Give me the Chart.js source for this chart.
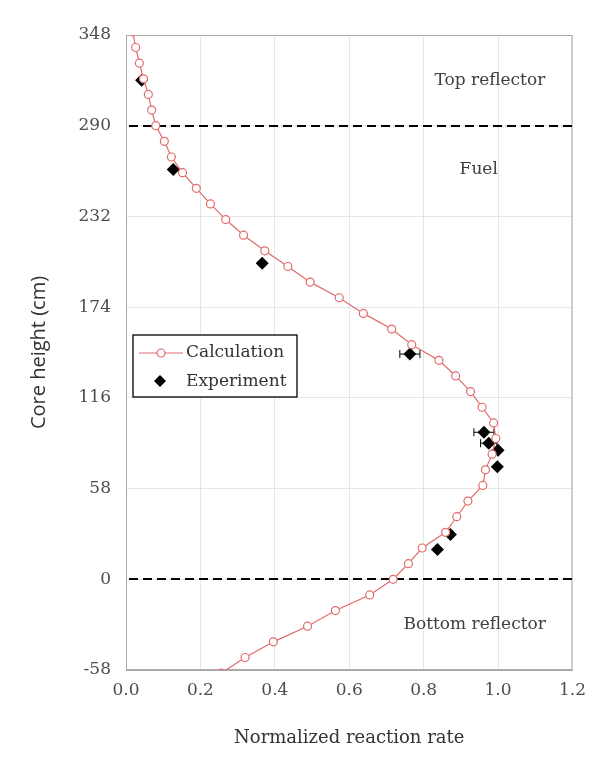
<!DOCTYPE html>
<html>
<head>
<meta charset="utf-8">
<script src="https://cdn.jsdelivr.net/npm/chart.js@4.4.0/dist/chart.umd.min.js"></script>
<style>
  html, body { margin: 0; padding: 0; background: #fff; }
  #wrap { width: 596px; height: 758px; }
</style>
</head>
<body>
<div id="wrap"><canvas id="profile"></canvas></div>
<script>
// Calculated axial profile, every 10 cm
var calcHeight = [350, 340, 330, 320, 310, 300, 290, 280, 270, 260, 250, 240, 230, 220, 210,
  200, 190, 180, 170, 160, 150, 140, 130, 120, 110, 100, 90, 80, 70, 60, 50, 40, 30, 20, 10,
  0, -10, -20, -30, -40, -50, -60];
var calcRate = [0.018, 0.026, 0.036, 0.047, 0.060, 0.069, 0.080, 0.103, 0.122, 0.152, 0.189,
  0.227, 0.268, 0.316, 0.373, 0.435, 0.495, 0.573, 0.638, 0.714, 0.768, 0.841, 0.886, 0.926,
  0.957, 0.988, 0.994, 0.984, 0.966, 0.959, 0.919, 0.889, 0.859, 0.796, 0.759, 0.718, 0.655,
  0.563, 0.488, 0.396, 0.320, 0.256];

// Measured points
var expHeight = [319, 262, 202, 144, 94, 87, 82.5, 72, 28.6, 19];
var expRate = [0.042, 0.127, 0.366, 0.763, 0.962, 0.975, 1.0, 0.998, 0.872, 0.837];
var expErr = [0, 0, 0, 0.027, 0.027, 0.022, 0, 0, 0, 0];

// Region boundaries (cm) and labels
var boundaryHeight = [290, 0];
var regionNames = ['Top reflector', 'Fuel', 'Bottom reflector'];

var yTicks = [-58, 0, 58, 116, 174, 232, 290, 348];

var calcPts = calcHeight.map(function (h, i) { return { x: calcRate[i], y: h }; });
var expPts = expHeight.map(function (h, i) { return { x: expRate[i], y: h }; });

var serif = '"DejaVu Serif", serif';
var red = '#e26b6b';

var overlay = {
  id: 'overlay',
  beforeDatasetsDraw: function (chart) {
    var ctx = chart.ctx, a = chart.chartArea;
    var xs = chart.scales.x, ys = chart.scales.y;
    ctx.save();
    ctx.strokeStyle = '#aaaaaa';
    ctx.lineWidth = 1;
    ctx.strokeRect(a.left + 0.5, a.top + 0.5, a.right - a.left - 1, a.bottom - a.top - 1);

    // boundary lines
    ctx.strokeStyle = '#000';
    ctx.lineWidth = 2;
    ctx.setLineDash([9, 5]);
    boundaryHeight.forEach(function (h) {
      var py = Math.round(ys.getPixelForValue(h));
      ctx.beginPath();
      ctx.moveTo(a.left + 3, py);
      ctx.lineTo(a.right, py);
      ctx.stroke();
    });
    ctx.setLineDash([]);

    // error bars
    ctx.lineWidth = 1;
    expPts.forEach(function (p, i) {
      if (!expErr[i]) return;
      var x1 = xs.getPixelForValue(p.x - expErr[i]);
      var x2 = xs.getPixelForValue(p.x + expErr[i]);
      var py = ys.getPixelForValue(p.y);
      ctx.beginPath();
      ctx.moveTo(x1, py); ctx.lineTo(x2, py);
      ctx.moveTo(x1, py - 4); ctx.lineTo(x1, py + 4);
      ctx.moveTo(x2, py - 4); ctx.lineTo(x2, py + 4);
      ctx.stroke();
    });
    ctx.restore();
  },
  afterDraw: function (chart) {
    var ctx = chart.ctx;
    var xs = chart.scales.x, ys = chart.scales.y;
    ctx.save();
    ctx.font = '17px ' + serif;
    ctx.fillStyle = '#404040';
    ctx.textAlign = 'center';
    ctx.textBaseline = 'middle';
    ctx.fillText(regionNames[0], xs.getPixelForValue(0.978), ys.getPixelForValue(319));
    ctx.fillText(regionNames[1], xs.getPixelForValue(0.948), ys.getPixelForValue(262));
    ctx.fillText(regionNames[2], xs.getPixelForValue(0.937), ys.getPixelForValue(-29));

    // legend box
    var lx = 133, ly = 335, lw = 164, lh = 62;
    ctx.fillStyle = '#fff';
    ctx.fillRect(lx, ly, lw, lh);
    ctx.strokeStyle = '#000';
    ctx.lineWidth = 1.3;
    ctx.strokeRect(lx, ly, lw, lh);

    ctx.strokeStyle = red;
    ctx.lineWidth = 1.2;
    ctx.beginPath();
    ctx.moveTo(139, 353); ctx.lineTo(183, 353);
    ctx.stroke();
    ctx.fillStyle = '#fff';
    ctx.beginPath();
    ctx.arc(161, 353, 4, 0, Math.PI * 2);
    ctx.fill(); ctx.stroke();

    ctx.fillStyle = '#000';
    ctx.beginPath();
    ctx.moveTo(160, 375); ctx.lineTo(166, 381); ctx.lineTo(160, 387); ctx.lineTo(154, 381);
    ctx.closePath();
    ctx.fill();

    ctx.fillStyle = '#333333';
    ctx.textAlign = 'left';
    ctx.fillText('Calculation', 186, 353);
    ctx.fillText('Experiment', 186, 382);
    ctx.restore();
  }
};

new Chart(document.getElementById('profile').getContext('2d'), {
  type: 'scatter',
  data: {
    datasets: [
      {
        label: 'Calculation',
        data: calcPts,
        showLine: true,
        borderColor: red,
        borderWidth: 1.2,
        pointRadius: 4,
        pointBorderWidth: 1.2,
        pointBackgroundColor: '#fff',
        pointBorderColor: red
      },
      {
        label: 'Experiment',
        data: expPts,
        pointStyle: 'rectRot',
        pointRadius: 6.5,
        pointBackgroundColor: '#000',
        pointBorderColor: '#000',
        borderWidth: 0
      }
    ]
  },
  options: {
    responsive: true,
    maintainAspectRatio: false,
    animation: false,
    layout: { padding: { top: 35, right: 22, left: 0, bottom: 0 } },
    plugins: { legend: { display: false }, tooltip: { enabled: false } },
    scales: {
      x: {
        type: 'linear',
        min: 0,
        max: 1.2,
        afterFit: function (s) { s.height = 88; },
        grid: { color: '#e6e6e6', drawTicks: false },
        border: { color: '#aaaaaa' },
        ticks: {
          stepSize: 0.2,
          padding: 10,
          color: '#4d4d4d',
          font: { family: serif, size: 17 },
          callback: function (v) { return v.toFixed(1); }
        },
        title: {
          display: true,
          text: 'Normalized reaction rate',
          color: '#333333',
          font: { family: serif, size: 18 },
          padding: { top: 4, bottom: 9 }
        }
      },
      y: {
        type: 'linear',
        min: -58,
        max: 348,
        afterFit: function (s) { s.width = 126; },
        afterBuildTicks: function (s) { s.ticks = yTicks.map(function (v) { return { value: v }; }); },
        grid: { color: '#e6e6e6', drawTicks: false },
        border: { color: '#aaaaaa' },
        ticks: {
          padding: 15,
          color: '#4d4d4d',
          font: { family: serif, size: 17 }
        },
        title: {
          display: true,
          text: 'Core height (cm)',
          color: '#333333',
          font: { family: '"Open Sans", sans-serif', size: 20 },
          padding: { top: 27, bottom: 0 }
        }
      }
    }
  },
  plugins: [overlay]
});
</script>
</body>
</html>
